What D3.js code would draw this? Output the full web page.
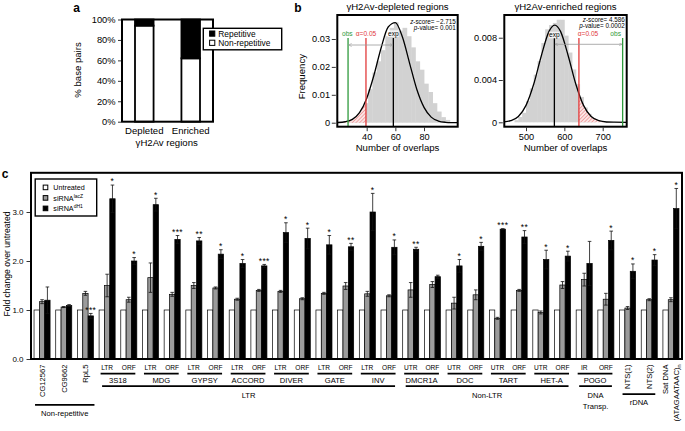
<!DOCTYPE html>
<html><head><meta charset="utf-8">
<script src="https://cdn.jsdelivr.net/npm/d3@7"></script>
<style>body{margin:0;background:#fff}svg{display:block;font-family:"Liberation Sans",Arial,Helvetica,sans-serif}</style>
</head><body><svg id="chart" width="685" height="431"></svg>
<script>
// ---------------- Panel a data ----------------
const aGroups = ["Depleted", "Enriched"];
const aNonRepetitive = [94, 62];
const aRepetitive = [6, 38];
const aTicks = [0, 20, 40, 60, 80, 100];
const aLegend = ["Repetitive", "Non-repetitive"];

// ---------------- Panel b data ----------------
const depTitle = "γH2Av-depleted regions";
const depBinStart = [26,29,32,35,38,41,44,47,50,53,56,59,62,65,68,71,74,77,80,83,86,89,92,95];
const depFreq = [0.0005,0.001,0.002,0.004,0.007,0.012,0.018,0.022,0.026,0.031,0.034,0.036,0.033,0.034,0.031,0.027,0.022,0.019,0.014,0.011,0.007,0.004,0.002,0.001];
const depCurveX = [20,25,30,35,40,45,50,55,60,65,70,75,80,85,90,95,100,104];
const depCurveY = [0.00008,0.00034,0.0012,0.0036,0.0087,0.0169,0.0267,0.0343,0.0359,0.0306,0.0212,0.0119,0.0055,0.0020,0.0006,0.00015,0.00003,0];
const depXTicks = [40, 60, 80];
const depYTicks = [0, 0.01, 0.02, 0.03];
const depObs = 27, depAlpha = 39.5, depExp = 58.6;
const depStats = ["−2.715", "0.001"];

const enrTitle = "γH2Av-enriched regions";
const enrBinStart = [470,480,490,500,510,520,530,540,550,560,570,580,590,600,610,620,630,640,650,660,670];
const enrFreq = [0.0002,0.0005,0.0009,0.0020,0.0032,0.0045,0.0058,0.0075,0.0088,0.0092,0.0094,0.0097,0.0097,0.0082,0.0066,0.0050,0.0036,0.0024,0.0014,0.0008,0.0004];
const enrCurveX = [443,460,480,500,520,540,560,575,590,610,630,650,670,690,710,730,763];
const enrCurveY = [0.00004,0.00015,0.00055,0.0016,0.0036,0.0063,0.0086,0.0092,0.0086,0.0063,0.0036,0.0016,0.00055,0.00015,0.00003,0.00001,0];
const enrXTicks = [500, 600, 700];
const enrYTicks = [0, 0.004, 0.008];
const enrObs = 752, enrAlpha = 638, enrExp = 574;
const enrStats = ["4.586", "0.0002"];

// ---------------- Panel c data ----------------
const cLabels = ["CG12567","CG9662","RpL5","LTR","ORF","LTR","ORF","LTR","ORF","LTR","ORF","LTR","ORF","LTR","ORF","LTR","ORF","UTR","ORF","UTR","ORF","UTR","ORF","UTR","ORF","IR","ORF","NTS(1)","NTS(2)","Sat DNA"];
const cUntreated = [1,1,1,1,1,1,1,1,1,1,1,1,1,1,1,1,1,1,1,1,1,1,1,1,1,1,1,1,1,1];
const cLacZ = [1.17,1.06,1.34,1.50,1.21,1.66,1.32,1.50,1.45,1.22,1.40,1.38,1.23,1.34,1.49,1.33,1.29,1.41,1.52,1.14,1.31,0.83,1.40,0.95,1.51,1.62,1.22,1.04,1.21,1.21];
const cLacZErr = [0.04,0.01,0.04,0.23,0.05,0.30,0.04,0.06,0.02,0.02,0.02,0.02,0.02,0.02,0.07,0.05,0.02,0.15,0.06,0.12,0.10,0.02,0.02,0.03,0.07,0.13,0.12,0.03,0.02,0.04];
const cDH1 = [1.20,1.09,0.88,3.27,2.00,3.15,2.44,2.41,2.14,1.95,1.90,2.58,2.46,2.33,2.29,3.00,2.28,2.24,1.68,1.90,2.30,2.65,2.49,2.03,2.10,1.95,2.42,1.79,2.02,3.07];
const cDH1Err = [0.27,0.02,0.05,0.28,0.07,0.13,0.08,0.07,0.09,0.08,0.03,0.20,0.21,0.19,0.07,0.38,0.15,0.04,0.03,0.13,0.08,0.01,0.13,0.19,0.10,0.45,0.19,0.15,0.11,0.41];
const cStars = ["","","***","*","*","*","***","**","*","*","***","*","*","*","**","*","*","**","","*","*","***","**","*","*","","*","*","*","*"];
const cYTicks = [0, 1, 2, 3];
const cFamilies = [["3S18",3,4],["MDG",5,6],["GYPSY",7,8],["ACCORD",9,10],["DIVER",11,12],["GATE",13,14],["INV",15,16],["DMCR1A",17,18],["DOC",19,20],["TART",21,22],["HET-A",23,24],["POGO",25,26]];
const cClasses = [["LTR",3,16],["Non-LTR",17,24],["DNA|Transp.",25,26],["Non-repetitive",0,2],["rDNA",27,28]];
const cLegend = [["Untreated",""],["siRNA","lacZ"],["siRNA","dH1"]];

// ---------------- drawing ----------------
const svg = d3.select("#chart");
const defs = svg.append("defs");
const hatch = defs.append("pattern").attr("id","hatch").attr("width",2.6).attr("height",2.6)
  .attr("patternUnits","userSpaceOnUse").attr("patternTransform","rotate(45)");
hatch.append("rect").attr("width",2.6).attr("height",2.6).attr("fill","#fbe6e6");
hatch.append("line").attr("x1",0).attr("y1",0).attr("x2",0).attr("y2",2.6).attr("stroke","#e04848").attr("stroke-width",0.8);
["s","e"].forEach(id=>{
  defs.append("marker").attr("id","arr"+id).attr("viewBox","0 0 6 6").attr("refX",id==="s"?0:6).attr("refY",3)
    .attr("markerWidth",4).attr("markerHeight",4).attr("orient","auto")
    .append("path").attr("d",id==="s"?"M6,0L0,3L6,6":"M0,0L6,3L0,6").attr("fill","none").attr("stroke","#999").attr("stroke-width",1);
});

function txt(g, x, y, s, size, anchor, extra){
  const t = g.append("text").attr("x",x).attr("y",y).attr("font-size",size).attr("text-anchor",anchor||"middle").text(s);
  if (extra) extra(t);
  return t;
}
function styleAxis(ax, fs){
  ax.attr("font-family",null).attr("font-size",null);
  ax.select(".domain").remove();
  ax.selectAll("text").attr("font-size",fs).attr("fill","#000");
  ax.selectAll("line").attr("stroke-width",0.8).attr("stroke","#000");
}

// ======== Panel a ========
(function(){
  const g = svg.append("g");
  const x = d3.scaleBand().domain(aGroups).range([122,213]).paddingInner(0.6).paddingOuter(0.28);
  const y = d3.scaleLinear().domain([0,100]).range([121.7,19.5]);
  g.append("rect").attr("x",122).attr("y",y(100)).attr("width",91).attr("height",y(0)-y(100)).attr("fill","#fff");
  g.selectAll("rect.nr").data(aGroups).join("rect").attr("class","nr")
    .attr("x",d=>x(d)).attr("width",x.bandwidth())
    .attr("y",(d,i)=>y(aNonRepetitive[i])).attr("height",(d,i)=>y(0)-y(aNonRepetitive[i]))
    .attr("fill","#fff").attr("stroke","#000").attr("stroke-width",1.8);
  g.selectAll("rect.r").data(aGroups).join("rect").attr("class","r")
    .attr("x",d=>x(d)).attr("width",x.bandwidth())
    .attr("y",(d,i)=>y(aNonRepetitive[i]+aRepetitive[i])).attr("height",(d,i)=>y(aNonRepetitive[i])-y(aNonRepetitive[i]+aRepetitive[i]))
    .attr("fill","#000").attr("stroke","#000").attr("stroke-width",1.8);
  g.append("rect").attr("x",122).attr("y",y(100)).attr("width",91).attr("height",y(0)-y(100))
    .attr("fill","none").attr("stroke","#000").attr("stroke-width",2);
  const ax = g.append("g").attr("transform","translate(121,0)")
    .call(d3.axisLeft(y).tickValues(aTicks).tickFormat(d=>d+"%").tickSize(3).tickPadding(2.5));
  styleAxis(ax, 9.3);
  g.selectAll("text.xl").data(aGroups).join("text").attr("class","xl")
    .attr("x",d=>x(d)+x.bandwidth()/2).attr("y",133.5).attr("text-anchor","middle").attr("font-size",9.6).text(d=>d);
  txt(g,166.7,146,"γH2Av regions",9.6);
  txt(g,0,0,"% base pairs",9.6,"middle",t=>t.attr("transform","translate(80.8,70) rotate(-90)"));
  txt(g,76.5,12,"a",12,"middle",t=>t.attr("font-weight","bold"));
  const lg = g.append("g");
  lg.append("rect").attr("x",203.3).attr("y",28.3).attr("width",78.4).attr("height",21.5).attr("fill","#fff").attr("stroke","#000").attr("stroke-width",1.4);
  aLegend.forEach((s,i)=>{
    const cy = 33.6 + i*9.2;
    lg.append("rect").attr("x",209.6).attr("y",cy-2.6).attr("width",5.2).attr("height",5.2)
      .attr("fill",i===0?"#000":"#fff").attr("stroke","#000").attr("stroke-width",1);
    txt(lg,218.3,cy+3,s,8.4,"start");
  });
})();

// ======== Panel b ========
function panelB(o){
  const g = svg.append("g");
  const x = d3.scaleLinear().domain(o.xDom).range([o.left,o.right]);
  const y = d3.scaleLinear().domain(o.yDom).range([o.bottom,o.top]);
  const cid = "clip"+o.id;
  defs.append("clipPath").attr("id",cid).append("rect").attr("x",o.left).attr("y",o.top).attr("width",o.right-o.left).attr("height",o.bottom-o.top);
  const inner = g.append("g").attr("clip-path",`url(#${cid})`);
  inner.selectAll("rect.h").data(o.bins).join("rect").attr("class","h")
    .attr("x",d=>x(d)).attr("width",d=>x(d+o.binW)-x(d)+0.4)
    .attr("y",(d,i)=>y(o.freq[i])).attr("height",(d,i)=>y(0)-y(o.freq[i])).attr("fill","#d2d2d2");
  const pts = o.cx.map((d,i)=>[d,o.cy[i]]);
  const tid = "tail"+o.id;
  defs.append("clipPath").attr("id",tid).append("rect").attr("x",x(o.tail[0])).attr("y",o.top)
    .attr("width",x(o.tail[1])-x(o.tail[0])).attr("height",o.bottom-o.top);
  inner.append("g").attr("clip-path",`url(#${tid})`).append("path").datum(pts)
    .attr("d",d3.area().x(d=>x(d[0])).y0(y(0)).y1(d=>y(d[1])).curve(d3.curveMonotoneX))
    .attr("fill","url(#hatch)");
  inner.append("path").datum(pts).attr("d",d3.line().x(d=>x(d[0])).y(d=>y(d[1])).curve(d3.curveMonotoneX))
    .attr("fill","none").attr("stroke","#000").attr("stroke-width",1.3);
  const lines = [[o.obs,"#2f9a3c"],[o.alpha,"#e23a3a"],[o.exp,"#000"]];
  lines.forEach(([v,c])=>{
    inner.append("line").attr("x1",x(v)).attr("x2",x(v)).attr("y1",o.bottom).attr("y2",o.lineTopPx).attr("stroke",c).attr("stroke-width",1.3);
  });
  const a0 = Math.min(o.obs,o.exp), a1 = Math.max(o.obs,o.exp);
  g.append("line").attr("x1",x(a0)+0.5).attr("x2",x(a1)-0.5).attr("y1",o.arrowPx).attr("y2",o.arrowPx)
    .attr("stroke","#999").attr("stroke-width",0.8).attr("marker-start","url(#arrs)").attr("marker-end","url(#arre)");
  const fs = 6.6;
  g.append("rect").attr("x",x(o.exp)-5.5).attr("y",o.labY[2]-5.3).attr("width",11).attr("height",6.6).attr("fill","#fff").attr("opacity",0.75);
  txt(g,o.labX[0],o.labY[0],"obs",fs,o.labA[0],t=>t.attr("fill","#2f9a3c"));
  txt(g,o.labX[1],o.labY[1],"α=0.05",fs,o.labA[1],t=>t.attr("fill","#e23a3a"));
  txt(g,x(o.exp),o.labY[2],"exp",fs,"middle");
  txt(g,o.right-2,o.statY[0],"",6.3,"end",t=>{t.append("tspan").attr("font-style","italic").text("z");t.append("tspan").text("-score= "+o.stats[0]);});
  txt(g,o.right-2,o.statY[1],"",6.3,"end",t=>{t.append("tspan").attr("font-style","italic").text("p");t.append("tspan").text("-value= "+o.stats[1]);});
  g.append("rect").attr("x",o.left).attr("y",o.top).attr("width",o.right-o.left).attr("height",o.bottom-o.top)
    .attr("fill","none").attr("stroke","#000").attr("stroke-width",2);
  const ay = g.append("g").attr("transform",`translate(${o.left-1.5},0)`)
    .call(d3.axisLeft(y).tickValues(o.yTicks).tickFormat(d=>d===0?"0":String(d)).tickSize(4).tickPadding(1.8));
  styleAxis(ay, 9.2);
  const axb = g.append("g").attr("transform",`translate(0,${o.bottom+1})`)
    .call(d3.axisBottom(x).tickValues(o.xTicks).tickSize(3.5).tickPadding(2));
  styleAxis(axb, 9.2);
  txt(g,(o.left+o.right)/2,10,o.title,9.6);
  txt(g,(o.left+o.right)/2,150.5,"Number of overlaps",9.6);
}
panelB({id:"d",left:337.3,right:457.7,top:15,bottom:126.7,xDom:[19.5,103.5],yDom:[-0.00143,0.0386],
  bins:depBinStart,binW:3,freq:depFreq,cx:depCurveX,cy:depCurveY,tail:[19.5,depAlpha],
  obs:depObs,alpha:depAlpha,exp:depExp,lineTopPx:38,arrowPx:45,
  labX:[347.3,366,0],labY:[35.6,35.6,35.6],labA:["middle","middle"],statY:[23.6,29.6],stats:depStats,
  xTicks:depXTicks,yTicks:depYTicks,title:depTitle});
panelB({id:"e",left:504.3,right:626.7,top:15,bottom:126.7,xDom:[443.4,762.6],yDom:[-0.000416,0.01015],
  bins:enrBinStart,binW:10,freq:enrFreq,cx:enrCurveX,cy:enrCurveY,tail:[enrAlpha,762.6],
  obs:enrObs,alpha:enrAlpha,exp:enrExp,lineTopPx:38,arrowPx:44.3,
  labX:[621,588,0],labY:[35.6,35.6,37],labA:["end","middle"],statY:[22,27.8],stats:enrStats,
  xTicks:enrXTicks,yTicks:enrYTicks,title:enrTitle});
txt(svg,0,0,"Frequency",9.6,"middle",t=>t.attr("transform","translate(305,76.7) rotate(-90)"));
txt(svg,298,12,"b",12,"middle",t=>t.attr("font-weight","bold"));

// ======== Panel c ========
(function(){
  const g = svg.append("g");
  const n = cLabels.length;
  const x = d3.scaleBand().domain(d3.range(n)).range([31,682]).paddingInner(0.26).paddingOuter(0.14);
  const series = [
    {key:"u", vals:cUntreated, err:null, fill:"#fff"},
    {key:"l", vals:cLacZ, err:cLacZErr, fill:"#9b9b9b"},
    {key:"d", vals:cDH1, err:cDH1Err, fill:"#000"}
  ];
  const xs = d3.scaleBand().domain(series.map(s=>s.key)).range([0,x.bandwidth()]);
  const y = d3.scaleLinear().domain([0,3.8]).range([359,172.8]);
  const bw = xs.bandwidth();
  series.forEach(s=>{
    const gs = g.append("g");
    gs.selectAll("rect").data(s.vals).join("rect")
      .attr("x",(d,i)=>x(i)+xs(s.key)).attr("width",bw)
      .attr("y",d=>y(d)).attr("height",d=>y(0)-y(d))
      .attr("fill",s.fill).attr("stroke","#000").attr("stroke-width",0.7);
    if (s.err){
      s.vals.forEach((v,i)=>{
        const cxp = x(i)+xs(s.key)+bw/2, e = s.err[i];
        const col = "#111";
        gs.append("line").attr("x1",cxp).attr("x2",cxp).attr("y1",y(v-e)).attr("y2",y(v+e)).attr("stroke",col).attr("stroke-width",0.8);
        [v-e,v+e].forEach(w=>gs.append("line").attr("x1",cxp-1.8).attr("x2",cxp+1.8).attr("y1",y(w)).attr("y2",y(w)).attr("stroke",col).attr("stroke-width",0.8));
      });
    }
  });
  g.selectAll("text.st").data(cStars).join("text").attr("class","st")
    .attr("x",(d,i)=>x(i)+xs("d")+bw/2).attr("y",(d,i)=>y(cDH1[i]+cDH1Err[i])-0.6)
    .attr("text-anchor","middle").attr("font-size",8.5).attr("letter-spacing",0.4).text(d=>d);
  g.append("rect").attr("x",31).attr("y",172.8).attr("width",651).attr("height",359-172.8)
    .attr("fill","none").attr("stroke","#000").attr("stroke-width",2);
  const ay = g.append("g").attr("transform","translate(30,0)")
    .call(d3.axisLeft(y).tickValues(cYTicks).tickSize(3.5).tickPadding(3));
  styleAxis(ay, 8);
  txt(g,0,0,"Fold change over untreated",8.6,"middle",t=>t.attr("transform","translate(10.2,264) rotate(-90)"));
  txt(g,5,178,"c",12,"middle",t=>t.attr("font-weight","bold"));
  const rotIdx = [0,1,2,27,28];
  cLabels.forEach((s,i)=>{
    const cxp = x(i)+x.bandwidth()/2;
    if (rotIdx.includes(i)){
      txt(g,0,0,s,7.6,"end",t=>t.attr("transform",`translate(${cxp+2.8},364.5) rotate(-90)`));
    } else if (i===29){
      txt(g,0,0,"Sat DNA",7.6,"end",t=>t.attr("transform",`translate(${cxp-2.6},364.5) rotate(-90)`));
      txt(g,0,0,"",7.6,"end",t=>{
        t.attr("transform",`translate(${cxp+8.3},364.5) rotate(-90)`);
        t.append("tspan").text("(ATAGAATAAC)");
        t.append("tspan").attr("font-size",5.5).attr("dy",1.8).text("n");
      });
    } else {
      txt(g,cxp,369.8,s,6.6,"middle");
    }
  });
  cFamilies.forEach(([name,a,b])=>{
    g.append("line").attr("x1",x(a)+1.5).attr("x2",x(b)+x.bandwidth()-1.5).attr("y1",373.6).attr("y2",373.6).attr("stroke","#000").attr("stroke-width",1.8);
    txt(g,(x(a)+x(b)+x.bandwidth())/2,382.8,name,7.6,"middle");
  });
  cClasses.forEach(([name,a,b])=>{
    let ly = 386.2, ty = 397.8;
    if (name==="Non-repetitive"){ ly = 404.8; ty = 415.6; }
    if (name==="rDNA"){ ly = 394.2; ty = 404.5; }
    const x1 = x(a)+(a===0?1:3), x2 = x(b)+x.bandwidth()-(a===0?-1:2);
    g.append("line").attr("x1",x1).attr("x2",x2).attr("y1",ly).attr("y2",ly).attr("stroke","#000").attr("stroke-width",1.8);
    const parts = name.split("|");
    parts.forEach((p,k)=>txt(g,(x1+x2)/2,ty+k*11.3,p,7.6,"middle"));
  });
  const lg = g.append("g");
  lg.append("rect").attr("x",35.2).attr("y",179).attr("width",61.5).attr("height",37).attr("fill","#fff").attr("stroke","#000").attr("stroke-width",1.4);
  const fills = ["#fff","#9b9b9b","#000"];
  cLegend.forEach(([s,sup],i)=>{
    const cy = 187.4 + i*10.5;
    lg.append("rect").attr("x",43.2).attr("y",cy-2.3).attr("width",4.6).attr("height",4.6).attr("fill",fills[i]).attr("stroke","#000").attr("stroke-width",1);
    txt(lg,53.3,cy+2.6,"",7.2,"start",t=>{
      t.append("tspan").text(s);
      if (sup) t.append("tspan").attr("font-size",5).attr("dy",-2.8).text(sup);
    });
  });
})();
</script></body></html>
